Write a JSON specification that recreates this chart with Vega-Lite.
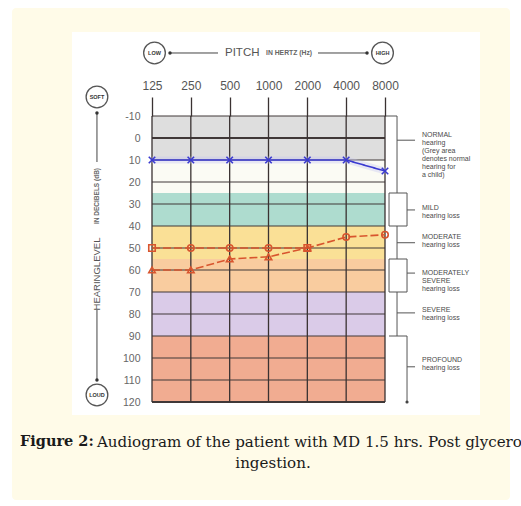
{
  "$schema": "https://vega.github.io/schema/vega-lite/v6.json",
  "width": 233,
  "height": 286,
  "autosize": {"type": "none"},
  "padding": {"left": 152, "top": 116, "right": 136, "bottom": 104},
  "background": "white",
  "config": {"view": {"stroke": null}},
  "resolve": {"scale": {"color": "independent", "shape": "independent", "strokeDash": "independent"}, "axis": {"x": "independent", "y": "independent"}},
  "datasets": {
    "bands": [
      {"lo": -10, "hi": 10, "zone": "normal (child)"},
      {"lo": 10, "hi": 25, "zone": "normal"},
      {"lo": 25, "hi": 40, "zone": "mild"},
      {"lo": 40, "hi": 55, "zone": "moderate"},
      {"lo": 55, "hi": 70, "zone": "moderately severe"},
      {"lo": 70, "hi": 90, "zone": "severe"},
      {"lo": 90, "hi": 120, "zone": "profound"}
    ],
    "levels": [{"db": -10}, {"db": 0}, {"db": 10}, {"db": 20}, {"db": 30}, {"db": 40}, {"db": 50}, {"db": 60}, {"db": 70}, {"db": 80}, {"db": 90}, {"db": 100}, {"db": 110}, {"db": 120}],
    "freqs": [{"freq": 125}, {"freq": 250}, {"freq": 500}, {"freq": 1000}, {"freq": 2000}, {"freq": 4000}, {"freq": 8000}],
    "hearing": [
      {"freq": 125, "db": 10, "series": "X", "marker": "X"},
      {"freq": 250, "db": 10, "series": "X", "marker": "X"},
      {"freq": 500, "db": 10, "series": "X", "marker": "X"},
      {"freq": 1000, "db": 10, "series": "X", "marker": "X"},
      {"freq": 2000, "db": 10, "series": "X", "marker": "X"},
      {"freq": 4000, "db": 10, "series": "X", "marker": "X"},
      {"freq": 8000, "db": 15, "series": "X", "marker": "X"},
      {"freq": 125, "db": 50, "series": "O", "marker": "[]"},
      {"freq": 250, "db": 50, "series": "O", "marker": "O"},
      {"freq": 500, "db": 50, "series": "O", "marker": "O"},
      {"freq": 1000, "db": 50, "series": "O", "marker": "O"},
      {"freq": 2000, "db": 50, "series": "O", "marker": "[]"},
      {"freq": 4000, "db": 45, "series": "O", "marker": "O"},
      {"freq": 8000, "db": 44, "series": "O", "marker": "O"},
      {"freq": 125, "db": 60, "series": "T", "marker": "T"},
      {"freq": 250, "db": 60, "series": "T", "marker": "T"},
      {"freq": 500, "db": 55, "series": "T", "marker": "T"},
      {"freq": 1000, "db": 54, "series": "T", "marker": "T"},
      {"freq": 2000, "db": 50, "series": "T", "marker": "T"}
    ],
    "levelsAnnot": [
      {"label": "NORMAL\nhearing\n(Grey area\ndenotes normal\nhearing for\na child)", "lo": -10, "hi": 25, "at": 1, "textAt": -1.4, "inner": false},
      {"label": "MILD\nhearing loss", "lo": 25, "hi": 40, "at": 32.7, "textAt": 31.8, "inner": true},
      {"label": "MODERATE\nhearing loss", "lo": 40, "hi": 55, "at": 47.6, "textAt": 44.9, "inner": false},
      {"label": "MODERATELY\nSEVERE\nhearing loss", "lo": 55, "hi": 70, "at": 61.4, "textAt": 61.4, "inner": true},
      {"label": "SEVERE\nhearing loss", "lo": 70, "hi": 90, "at": 79.5, "textAt": 78.2, "inner": false},
      {"label": "PROFOUND\nhearing loss", "lo": 90, "hi": 120, "at": 104, "textAt": 100.9, "inner": true}
    ],
    "badges": [
      {"badge": "LOW", "freq": 130.7, "db": -38.64},
      {"badge": "HIGH", "freq": 7653, "db": -38.64},
      {"badge": "SOFT", "freq": 46.8, "db": -18.64},
      {"badge": "LOUD", "freq": 46.8, "db": 116.8}
    ],
    "hArrows": [
      {"f1": 172.4, "f2": 406.1, "db": -38.64},
      {"f1": 2420, "f2": 5804, "db": -38.64}
    ],
    "vArrows": [
      {"freq": 46.8, "d1": -11.36, "d2": 10.91},
      {"freq": 46.8, "d1": 78.18, "d2": 110}
    ],
    "arrowDots": [
      {"freq": 172.4, "db": -38.64},
      {"freq": 5804, "db": -38.64},
      {"freq": 46.8, "db": -11.36},
      {"freq": 46.8, "db": 110}
    ]
  },
  "layer": [
    {
      "data": {"values": [{}]},
      "mark": {"type": "rect", "color": "#fffbe8", "cornerRadius": 4},
      "encoding": {
        "x": {"datum": 10.27, "type": "quantitative", "scale": {"type": "log", "base": 2, "domain": [125, 8000], "nice": false}, "axis": null},
        "x2": {"datum": 74530},
        "y": {"datum": -59.09, "type": "quantitative", "scale": {"domain": [-10, 120], "reverse": true, "nice": false, "zero": false}, "axis": null},
        "y2": {"datum": 164.5}
      }
    },
    {
      "data": {"values": [{}]},
      "mark": {"type": "rect", "color": "#ffffff"},
      "encoding": {
        "x": {"datum": 29.96, "type": "quantitative", "axis": null},
        "x2": {"datum": 43620},
        "y": {"datum": -48.18, "type": "quantitative", "axis": null},
        "y2": {"datum": 125.9}
      }
    },
    {
      "data": {"name": "bands"},
      "mark": {"type": "rect"},
      "encoding": {
        "x": {"datum": 125, "type": "quantitative", "scale": {"type": "log", "base": 2, "domain": [125, 8000], "nice": false},
          "axis": {"orient": "top", "values": [125, 250, 500, 1000, 2000, 4000, 8000], "labelExpr": "'' + datum.value", "labelFont": "Liberation Sans", "labelFontSize": 12, "labelColor": "#555555", "tickSize": 19, "tickColor": "#3a3232", "tickWidth": 1.3, "domain": false, "grid": false, "labelPadding": 5, "title": null, "zindex": 1, "labelFlush": false, "labelOverlap": false}},
        "x2": {"datum": 8000},
        "y": {"field": "lo", "type": "quantitative", "scale": {"domain": [-10, 120], "reverse": true, "nice": false, "zero": false},
          "axis": {"values": [-10, 0, 10, 20, 30, 40, 50, 60, 70, 80, 90, 100, 110, 120], "labelExpr": "'' + datum.value", "labelFont": "Liberation Sans", "labelFontSize": 10.5, "labelColor": "#666666", "ticks": false, "tickSize": 0, "domain": false, "grid": false, "labelPadding": 12, "title": null, "zindex": 1, "labelOverlap": false}},
        "y2": {"field": "hi"},
        "color": {"field": "zone", "type": "nominal", "legend": null,
          "scale": {"domain": ["normal (child)", "normal", "mild", "moderate", "moderately severe", "severe", "profound"],
            "range": ["#dedede", "#fbfbf4", "#aedccf", "#fae096", "#f9cc9f", "#dacbe8", "#f1ac91"]}}
      }
    },
    {
      "data": {"name": "levels"},
      "mark": {"type": "rule", "color": "#403838"},
      "encoding": {
        "y": {"field": "db", "type": "quantitative", "axis": null},
        "x": {"datum": 125, "type": "quantitative", "axis": null},
        "x2": {"datum": 8000},
        "strokeWidth": {"condition": {"test": "datum.db == 0 || datum.db == 120", "value": 2.2}, "value": 1.2}
      }
    },
    {
      "data": {"name": "freqs"},
      "mark": {"type": "rule", "color": "#3a3232", "strokeWidth": 1.3},
      "encoding": {
        "x": {"field": "freq", "type": "quantitative", "axis": null},
        "y": {"datum": -10, "type": "quantitative", "axis": null},
        "y2": {"datum": 120}
      }
    },
    {
      "data": {"values": [{}]},
      "mark": {"type": "rule", "color": "#555555", "strokeWidth": 1},
      "encoding": {
        "x": {"datum": 9915, "type": "quantitative", "axis": null},
        "y": {"datum": -10, "type": "quantitative", "axis": null},
        "y2": {"datum": 90}
      }
    },
    {
      "data": {"values": [{}]},
      "mark": {"type": "rule", "color": "#555555", "strokeWidth": 1},
      "encoding": {
        "x": {"datum": 8000, "type": "quantitative", "axis": null},
        "x2": {"datum": 9915},
        "y": {"datum": -10, "type": "quantitative", "axis": null}
      }
    },
    {
      "data": {"name": "levelsAnnot"},
      "transform": [{"filter": "datum.inner && datum.lo < 90"}],
      "mark": {"type": "rect", "fill": "#ffffff", "stroke": "#555555", "strokeWidth": 1},
      "encoding": {
        "x": {"datum": 8595, "type": "quantitative", "axis": null},
        "x2": {"datum": 11852},
        "y": {"field": "lo", "type": "quantitative", "axis": null},
        "y2": {"field": "hi"}
      }
    },
    {
      "data": {"name": "levelsAnnot"},
      "transform": [{"filter": "datum.lo == 90"}],
      "mark": {"type": "rule", "color": "#555555", "strokeWidth": 1},
      "encoding": {
        "x": {"datum": 8595, "type": "quantitative", "axis": null},
        "x2": {"datum": 11852},
        "y": {"field": "lo", "type": "quantitative", "axis": null}
      }
    },
    {
      "data": {"name": "levelsAnnot"},
      "transform": [{"filter": "datum.lo == 90"}],
      "mark": {"type": "rule", "color": "#555555", "strokeWidth": 1},
      "encoding": {
        "x": {"datum": 11852, "type": "quantitative", "axis": null},
        "y": {"field": "lo", "type": "quantitative", "axis": null},
        "y2": {"field": "hi"}
      }
    },
    {
      "data": {"name": "levelsAnnot"},
      "transform": [{"filter": "datum.lo == 90"}],
      "mark": {"type": "point", "shape": "circle", "filled": true, "color": "#444444", "size": 10, "opacity": 1},
      "encoding": {
        "x": {"datum": 11852, "type": "quantitative", "axis": null},
        "y": {"field": "hi", "type": "quantitative", "axis": null}
      }
    },
    {
      "data": {"name": "levelsAnnot"},
      "transform": [{"filter": "!datum.inner"}],
      "mark": {"type": "rule", "color": "#555555", "strokeWidth": 1},
      "encoding": {
        "x": {"datum": 9915, "type": "quantitative", "axis": null},
        "x2": {"datum": 13671},
        "y": {"field": "at", "type": "quantitative", "axis": null}
      }
    },
    {
      "data": {"name": "levelsAnnot"},
      "transform": [{"filter": "datum.inner"}],
      "mark": {"type": "rule", "color": "#555555", "strokeWidth": 1},
      "encoding": {
        "x": {"datum": 11852, "type": "quantitative", "axis": null},
        "x2": {"datum": 13671},
        "y": {"field": "at", "type": "quantitative", "axis": null}
      }
    },
    {
      "data": {"name": "levelsAnnot"},
      "mark": {"type": "text", "align": "left", "baseline": "middle", "lineBreak": "\n", "lineHeight": 8, "font": "Liberation Sans", "fontSize": 7, "color": "#4a4a4a"},
      "encoding": {
        "x": {"datum": 15486, "type": "quantitative", "axis": null},
        "y": {"field": "textAt", "type": "quantitative", "axis": null},
        "text": {"field": "label"}
      }
    },
    {
      "data": {"name": "hearing"},
      "transform": [{"filter": "datum.series == 'X'"}],
      "mark": {"type": "line", "color": "#c4c4f2", "strokeWidth": 7, "opacity": 0.35},
      "encoding": {
        "x": {"field": "freq", "type": "quantitative", "axis": null},
        "y": {"field": "db", "type": "quantitative", "axis": null}
      }
    },
    {
      "data": {"name": "hearing"},
      "mark": {"type": "line", "strokeWidth": 1.6},
      "encoding": {
        "x": {"field": "freq", "type": "quantitative", "axis": null},
        "y": {"field": "db", "type": "quantitative", "axis": null},
        "color": {"field": "series", "type": "nominal", "legend": null, "scale": {"domain": ["X", "O", "T"], "range": ["#3a3ad0", "#d8552e", "#d8552e"]}},
        "strokeDash": {"field": "series", "type": "nominal", "legend": null, "scale": {"domain": ["X", "O", "T"], "range": [[1, 0], [8, 3], [8, 3]]}}
      }
    },
    {
      "data": {"name": "hearing"},
      "mark": {"type": "point", "filled": false, "size": 42, "strokeWidth": 1.6, "opacity": 1},
      "encoding": {
        "x": {"field": "freq", "type": "quantitative", "axis": null},
        "y": {"field": "db", "type": "quantitative", "axis": null},
        "color": {"field": "series", "type": "nominal", "legend": null, "scale": {"domain": ["X", "O", "T"], "range": ["#3a3ad0", "#d8552e", "#d8552e"]}},
        "shape": {"field": "marker", "type": "nominal", "legend": null, "scale": {"domain": ["X", "O", "[]", "T"], "range": ["M-1,-1L1,1M-1,1L1,-1", "circle", "square", "triangle-up"]}}
      }
    },
    {
      "data": {"name": "hArrows"},
      "mark": {"type": "rule", "color": "#444444", "strokeWidth": 1},
      "encoding": {
        "x": {"field": "f1", "type": "quantitative", "axis": null},
        "x2": {"field": "f2"},
        "y": {"field": "db", "type": "quantitative", "axis": null}
      }
    },
    {
      "data": {"name": "vArrows"},
      "mark": {"type": "rule", "color": "#444444", "strokeWidth": 1},
      "encoding": {
        "x": {"field": "freq", "type": "quantitative", "axis": null},
        "y": {"field": "d1", "type": "quantitative", "axis": null},
        "y2": {"field": "d2"}
      }
    },
    {
      "data": {"name": "arrowDots"},
      "mark": {"type": "point", "shape": "circle", "filled": true, "color": "#333333", "size": 12, "opacity": 1},
      "encoding": {
        "x": {"field": "freq", "type": "quantitative", "axis": null},
        "y": {"field": "db", "type": "quantitative", "axis": null}
      }
    },
    {
      "data": {"name": "badges"},
      "mark": {"type": "point", "shape": "circle", "filled": true, "fill": "#ffffff", "stroke": "#555555", "strokeWidth": 1.3, "size": 470, "opacity": 1},
      "encoding": {
        "x": {"field": "freq", "type": "quantitative", "axis": null},
        "y": {"field": "db", "type": "quantitative", "axis": null}
      }
    },
    {
      "data": {"name": "badges"},
      "mark": {"type": "text", "font": "Liberation Sans", "fontSize": 5.5, "fontWeight": "bold", "color": "#333333", "align": "center", "baseline": "middle"},
      "encoding": {
        "x": {"field": "freq", "type": "quantitative", "axis": null},
        "y": {"field": "db", "type": "quantitative", "axis": null},
        "text": {"field": "badge"}
      }
    },
    {
      "data": {"values": [{"t": "PITCH"}]},
      "mark": {"type": "text", "font": "Liberation Sans", "fontSize": 11.5, "color": "#555555", "align": "left", "baseline": "middle"},
      "encoding": {
        "x": {"datum": 460.1, "type": "quantitative", "axis": null},
        "y": {"datum": -38.64, "type": "quantitative", "axis": null},
        "text": {"field": "t"}
      }
    },
    {
      "data": {"values": [{"t": "IN HERTZ (Hz)"}]},
      "mark": {"type": "text", "font": "Liberation Sans", "fontSize": 6.8, "fontWeight": "bold", "color": "#666666", "align": "left", "baseline": "middle"},
      "encoding": {
        "x": {"datum": 956.6, "type": "quantitative", "axis": null},
        "y": {"datum": -38.64, "type": "quantitative", "axis": null},
        "text": {"field": "t"}
      }
    },
    {
      "data": {"values": [{"t": "HEARINGLEVEL"}]},
      "mark": {"type": "text", "font": "Liberation Sans", "fontSize": 9.5, "color": "#555555", "align": "center", "baseline": "middle", "angle": 270},
      "encoding": {
        "x": {"datum": 46.8, "type": "quantitative", "axis": null},
        "y": {"datum": 61.82, "type": "quantitative", "axis": null},
        "text": {"field": "t"}
      }
    },
    {
      "data": {"values": [{"t": "IN DECIBELS (dB)"}]},
      "mark": {"type": "text", "font": "Liberation Sans", "fontSize": 6.5, "fontWeight": "bold", "color": "#666666", "align": "center", "baseline": "middle", "angle": 270},
      "encoding": {
        "x": {"datum": 46.8, "type": "quantitative", "axis": null},
        "y": {"datum": 26.36, "type": "quantitative", "axis": null},
        "text": {"field": "t"}
      }
    },
    {
      "data": {"values": [{"t": "Figure 2:"}]},
      "mark": {"type": "text", "font": "DejaVu Serif", "fontSize": 14.5, "fontWeight": "bold", "color": "#1a1a1a", "align": "left", "baseline": "middle"},
      "encoding": {
        "x": {"datum": 11.84, "type": "quantitative", "axis": null},
        "y": {"datum": 138.2, "type": "quantitative", "axis": null},
        "text": {"field": "t"}
      }
    },
    {
      "data": {"values": [{"t": "Audiogram of the patient with MD 1.5 hrs. Post glycerol"}]},
      "mark": {"type": "text", "font": "DejaVu Serif", "fontSize": 15.1, "color": "#1a1a1a", "align": "left", "baseline": "middle"},
      "encoding": {
        "x": {"datum": 46.8, "type": "quantitative", "axis": null},
        "y": {"datum": 138.2, "type": "quantitative", "axis": null},
        "text": {"field": "t"}
      }
    },
    {
      "data": {"values": [{"t": "ingestion."}]},
      "mark": {"type": "text", "font": "DejaVu Serif", "fontSize": 15.1, "color": "#1a1a1a", "align": "center", "baseline": "middle"},
      "encoding": {
        "x": {"datum": 1083.9, "type": "quantitative", "axis": null},
        "y": {"datum": 147.7, "type": "quantitative", "axis": null},
        "text": {"field": "t"}
      }
    }
  ]
}
